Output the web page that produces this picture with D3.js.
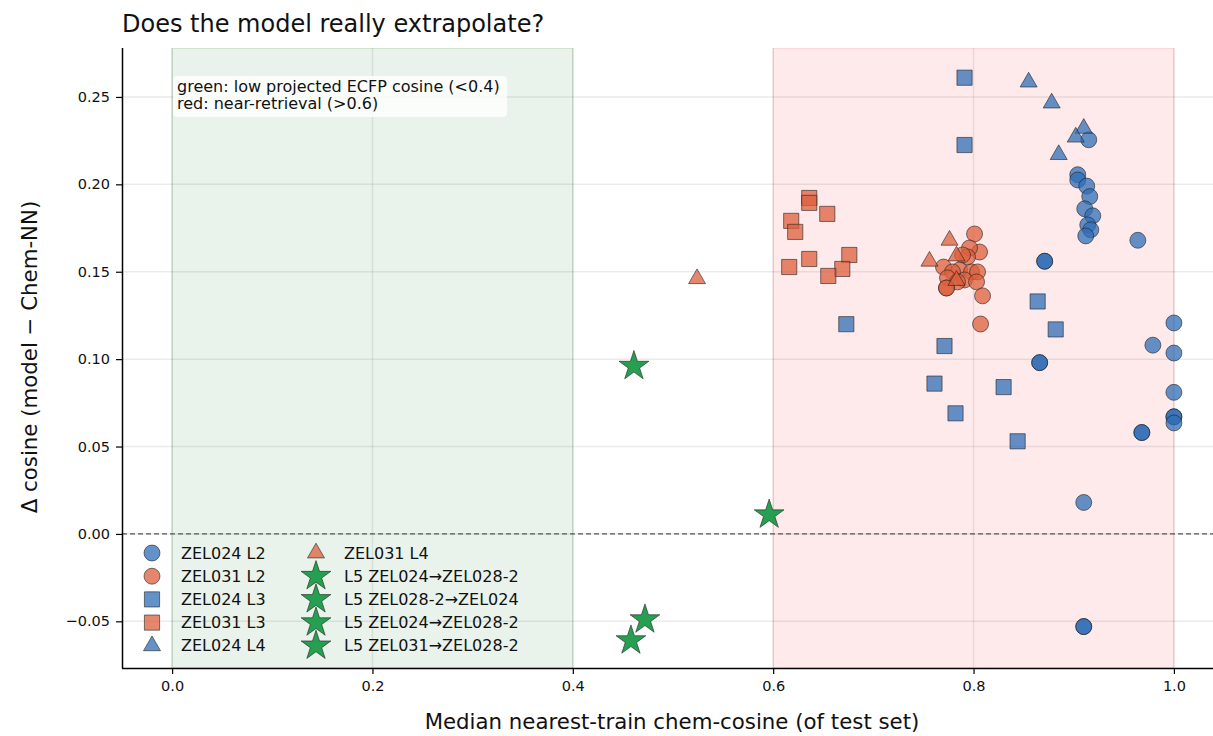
<!DOCTYPE html>
<html><head><meta charset="utf-8">
<script src="https://cdn.jsdelivr.net/npm/d3@7"></script>
<style>
html,body{margin:0;padding:0;background:#fff;}
text{font-family:"DejaVu Sans",sans-serif;}
</style></head>
<body><svg id="c" width="1213" height="736"></svg>
<script>
// ---- data ----
const z24L2x = [0.915,0.904,0.904,0.913,0.916,0.911,0.919,0.914,0.917,0.912,0.964,0.871,0.871,1.0,0.979,1.0,0.866,0.866,1.0,1.0,1.0,1.0,0.968,0.968,0.910,0.910,0.910];
const z24L2y = [0.2255,0.2055,0.2025,0.199,0.193,0.186,0.182,0.1768,0.174,0.1705,0.168,0.156,0.156,0.1207,0.108,0.1035,0.098,0.098,0.081,0.067,0.067,0.0635,0.058,0.058,0.018,-0.053,-0.053];
const z31L2x = [0.801,0.806,0.796,0.794,0.789,0.770,0.786,0.779,0.798,0.804,0.774,0.791,0.784,0.803,0.773,0.773,0.809,0.807];
const z31L2y = [0.1716,0.1613,0.1636,0.1585,0.1596,0.1527,0.151,0.1499,0.1499,0.1499,0.1465,0.1453,0.1442,0.1442,0.1407,0.1407,0.1362,0.1201];
const z24L3x = [0.791,0.791,0.673,0.864,0.882,0.771,0.761,0.830,0.782,0.844];
const z24L3y = [0.261,0.2225,0.120,0.133,0.117,0.1075,0.086,0.084,0.069,0.053];
const z31L3x = [0.636,0.636,0.618,0.622,0.654,0.636,0.616,0.676,0.669,0.655];
const z31L3y = [0.1922,0.1894,0.1791,0.1728,0.1831,0.1573,0.1527,0.1596,0.1516,0.1476];
const z24L4x = [0.855,0.878,0.910,0.902,0.885];
const z24L4y = [0.2585,0.2465,0.232,0.227,0.217];
const z31L4x = [0.524,0.756,0.776,0.783,0.783];
const z31L4y = [0.146,0.156,0.168,0.159,0.145];
const l5aX = [0.461], l5aY = [0.096];
const l5bX = [0.596], l5bY = [0.011];
const l5cX = [0.472], l5cY = [-0.049];
const l5dX = [0.458], l5dY = [-0.061];
const xTicks = [0.0,0.2,0.4,0.6,0.8,1.0];
const yTicks = [-0.05,0.00,0.05,0.10,0.15,0.20,0.25];

const BLUE = "#2f6db5", ORANGE = "#dc5f3c", GREEN = "#1a9a48";
const series = [
  {name:"ZEL024 L2", x:z24L2x, y:z24L2y, c:BLUE, s:"circle"},
  {name:"ZEL031 L2", x:z31L2x, y:z31L2y, c:ORANGE, s:"circle"},
  {name:"ZEL024 L3", x:z24L3x, y:z24L3y, c:BLUE, s:"square"},
  {name:"ZEL031 L3", x:z31L3x, y:z31L3y, c:ORANGE, s:"square"},
  {name:"ZEL024 L4", x:z24L4x, y:z24L4y, c:BLUE, s:"triangle"},
  {name:"ZEL031 L4", x:z31L4x, y:z31L4y, c:ORANGE, s:"triangle"},
  {name:"L5 ZEL024\u2192ZEL028-2", x:l5aX, y:l5aY, c:GREEN, s:"star"},
  {name:"L5 ZEL028-2\u2192ZEL024", x:l5bX, y:l5bY, c:GREEN, s:"star"},
  {name:"L5 ZEL024\u2192ZEL028-2", x:l5cX, y:l5cY, c:GREEN, s:"star"},
  {name:"L5 ZEL031\u2192ZEL028-2", x:l5dX, y:l5dY, c:GREEN, s:"star"}
];

// ---- layout ----
const svg = d3.select("#c");
const L = 122, T = 48, B = 668, R = 1213;
const x = d3.scaleLinear().domain([-0.05,1.05]).range([L,1224]);
const y = d3.scaleLinear().domain([-0.0767,0.2780]).range([B,T]);

const symTypes = {circle:d3.symbolCircle, square:d3.symbolSquare, triangle:d3.symbolTriangle, star:d3.symbolStar};
const symSize = {circle:200, square:230, triangle:125, star:275};
const sym = s => d3.symbol().type(symTypes[s]).size(symSize[s])();

svg.append("clipPath").attr("id","pc").append("rect")
  .attr("x",L).attr("y",T).attr("width",R-L).attr("height",B-T);
const plot = svg.append("g").attr("clip-path","url(#pc)");

// spans
plot.append("rect").attr("x",x(0)).attr("y",T).attr("width",x(0.4)-x(0)).attr("height",B-T)
  .attr("fill","#2e8b3a").attr("fill-opacity",0.1).attr("stroke","#2e8b3a").attr("stroke-opacity",0.18).attr("stroke-width",1.5);
plot.append("rect").attr("x",x(0.6)).attr("y",T).attr("width",x(1.0)-x(0.6)).attr("height",B-T)
  .attr("fill","#f44b5a").attr("fill-opacity",0.12).attr("stroke","#f44b5a").attr("stroke-opacity",0.15).attr("stroke-width",1.5);

// grid
plot.append("g").selectAll("line").data(xTicks).join("line")
  .attr("x1",d=>x(d)).attr("x2",d=>x(d)).attr("y1",T).attr("y2",B)
  .attr("stroke","#000").attr("stroke-opacity",0.08).attr("stroke-width",1.5);
plot.append("g").selectAll("line").data(yTicks).join("line")
  .attr("x1",L).attr("x2",R).attr("y1",d=>y(d)).attr("y2",d=>y(d))
  .attr("stroke","#000").attr("stroke-opacity",0.08).attr("stroke-width",1.5);

// zero line
plot.append("line").attr("x1",L).attr("x2",R).attr("y1",y(0)).attr("y2",y(0))
  .attr("stroke","#555").attr("stroke-width",1.2).attr("stroke-dasharray","5,3");

// points
series.forEach(sr=>{
  plot.append("g").selectAll("path").data(sr.x.map((v,i)=>[v,sr.y[i]])).join("path")
    .attr("d",sym(sr.s))
    .attr("transform",d=>`translate(${x(d[0])},${y(d[1])})`)
    .attr("fill",sr.c).attr("fill-opacity", sr.s==="star"?0.95:0.75)
    .attr("stroke","#222").attr("stroke-opacity",0.75).attr("stroke-width",0.8);
});

// axes
const xa = svg.append("g").attr("transform",`translate(0,${B})`)
  .call(d3.axisBottom(x).tickValues(xTicks).tickFormat(d3.format(".1f")).tickSize(6).tickPadding(7));
const ya = svg.append("g").attr("transform",`translate(${L},0)`)
  .call(d3.axisLeft(y).tickValues(yTicks).tickFormat(d=>(d<0?"\u2212":"")+Math.abs(d).toFixed(2)).tickSize(6).tickPadding(6));
[xa,ya].forEach(a=>{
  a.select(".domain").attr("stroke","#000").attr("stroke-width",1.5);
  a.selectAll(".tick line").attr("stroke","#000").attr("stroke-width",1.2);
  a.selectAll(".tick text").attr("font-size",14.5).attr("fill","#111").attr("font-family","DejaVu Sans");
});
xa.select(".domain").attr("d",`M${L},0.5H${R}`);
ya.select(".domain").attr("d",`M0.5,${T}V${B}`);

// labels
svg.append("text").attr("x",122).attr("y",32).attr("font-size",24).attr("fill","#111")
  .text("Does the model really extrapolate?");
svg.append("text").attr("x",672).attr("y",729).attr("text-anchor","middle").attr("font-size",21.3).attr("fill","#111")
  .text("Median nearest-train chem-cosine (of test set)");
svg.append("text").attr("transform","translate(37,357) rotate(-90)").attr("text-anchor","middle").attr("font-size",21.3).attr("fill","#111")
  .text("\u0394 cosine (model \u2212 Chem-NN)");

// annotation box
svg.append("rect").attr("x",173).attr("y",76).attr("width",334).attr("height",41).attr("rx",4)
  .attr("fill","#fff").attr("fill-opacity",0.8);
svg.append("text").attr("x",177).attr("y",92).attr("font-size",16).attr("fill","#111")
  .text("green: low projected ECFP cosine (<0.4)");
svg.append("text").attr("x",177).attr("y",109).attr("font-size",16).attr("fill","#111")
  .text("red: near-retrieval (>0.6)");

// legend
const lg = svg.append("g");
series.forEach((sr,i)=>{
  const col = i<5?0:1, row = i<5?i:i-5;
  const mx = col===0?152:316, tx = col===0?181:344, yy = 553+row*23.2;
  lg.append("path").attr("d",sym(sr.s)).attr("transform",`translate(${mx},${yy})`)
    .attr("fill",sr.c).attr("fill-opacity", sr.s==="star"?0.95:0.75)
    .attr("stroke","#222").attr("stroke-opacity",0.75).attr("stroke-width",0.8);
  lg.append("text").attr("x",tx).attr("y",yy+5.5).attr("font-size",16).attr("fill","#111").text(sr.name);
});
</script></body></html>
